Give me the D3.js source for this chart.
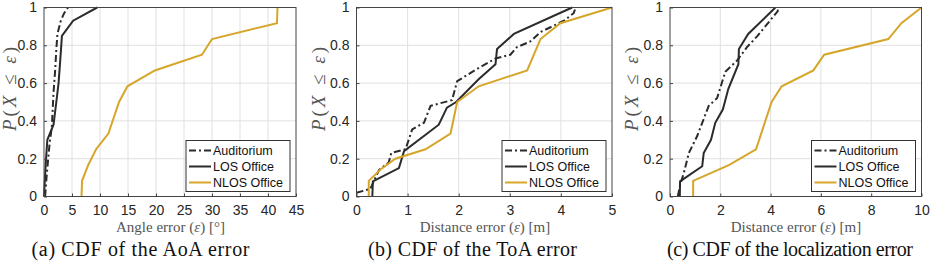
<!DOCTYPE html>
<html>
<head>
<meta charset="utf-8">
<script src="https://cdn.jsdelivr.net/npm/d3@7"></script>
<style>
  body { margin: 0; background: #fff; }
  text { font-family: "Liberation Sans", Arial, sans-serif; }
  .serif { font-family: "Liberation Serif", "Times New Roman", serif; }
</style>
</head>
<body>
<svg id="fig" width="930" height="264"></svg>
<script>
// series labels, shared by the three panels
const seriesNames = ["Auditorium", "LOS Office", "NLOS Office"];
const yTicks = [0, 0.2, 0.4, 0.6, 0.8, 1];

// (a) AoA error, degrees
const aoaAudX = [0.2, 0.5, 1.0, 1.4, 1.7, 2.0, 2.2, 2.4, 3.0, 3.6, 4.3];
const aoaAudY = [0, 0.12, 0.28, 0.37, 0.55, 0.67, 0.78, 0.86, 0.93, 0.97, 1];
const aoaLosX = [0, 0.3, 0.6, 1.7, 2.2, 2.6, 2.9, 3.2, 5.2, 9.5];
const aoaLosY = [0, 0.17, 0.30, 0.38, 0.50, 0.60, 0.72, 0.85, 0.93, 1];
const aoaNlosX = [6.7, 6.8, 7.9, 9.3, 11.5, 13.4, 14.9, 19.8, 28.2, 30.0, 41.6, 41.7];
const aoaNlosY = [0, 0.083, 0.167, 0.25, 0.333, 0.5, 0.583, 0.667, 0.75, 0.833, 0.917, 1];
const aoaTicks = [0, 5, 10, 15, 20, 25, 30, 35, 40, 45];

// (b) ToA error, metres
const toaAudX = [0, 0.27, 0.44, 0.63, 0.68, 0.96, 1.09, 1.32, 1.45, 1.87, 1.97, 2.33, 2.72, 3.01, 3.14, 3.4, 3.6, 4.06, 4.25, 4.29];
const toaAudY = [0.02, 0.04, 0.14, 0.18, 0.23, 0.25, 0.355, 0.39, 0.48, 0.51, 0.61, 0.67, 0.73, 0.75, 0.79, 0.82, 0.87, 0.93, 0.97, 1];
const toaLosX = [0.31, 0.32, 0.83, 0.93, 1.61, 1.77, 1.95, 2.39, 2.72, 2.75, 3.08, 4.22];
const toaLosY = [0, 0.08, 0.15, 0.24, 0.38, 0.47, 0.5, 0.62, 0.70, 0.78, 0.86, 1];
const toaNlosX = [0.24, 0.24, 0.47, 0.76, 1.35, 1.84, 1.97, 2.39, 3.34, 3.6, 3.99, 5.0];
const toaNlosY = [0, 0.083, 0.143, 0.2, 0.25, 0.333, 0.5, 0.583, 0.667, 0.833, 0.917, 1];
const toaTicks = [0, 1, 2, 3, 4, 5];

// (c) localization error, metres
const locAudX = [0.31, 0.4, 0.55, 0.75, 1.08, 1.54, 1.87, 2.2, 2.67, 3.06, 3.48, 4.28, 4.3];
const locAudY = [0, 0.06, 0.125, 0.23, 0.32, 0.48, 0.52, 0.66, 0.72, 0.79, 0.85, 0.98, 1];
const locLosX = [0.39, 0.4, 1.28, 1.34, 1.63, 1.8, 2.1, 2.32, 2.72, 2.74, 3.11, 4.19];
const locLosY = [0, 0.08, 0.16, 0.23, 0.30, 0.39, 0.46, 0.57, 0.70, 0.78, 0.86, 1];
const locNlosX = [0.92, 0.92, 2.36, 3.42, 4.04, 4.44, 5.7, 6.13, 8.68, 9.2, 10];
const locNlosY = [0, 0.083, 0.167, 0.25, 0.5, 0.583, 0.667, 0.75, 0.833, 0.917, 1];
const locTicks = [0, 2, 4, 6, 8, 10];

const TOP = 7.5, BOTTOM = 196.5;
const DARK = "#2b2b2b", GOLD = "#d6a62a";
const styles = [
  { color: DARK, dash: "7,3,2,3" },
  { color: DARK, dash: null },
  { color: GOLD, dash: null }
];

const svg = d3.select("#fig");

function panel(p) {
  const x = d3.scaleLinear().domain([p.ticks[0], p.ticks[p.ticks.length - 1]]).range([p.left, p.right]);
  const y = d3.scaleLinear().domain([0, 1]).range([BOTTOM, TOP]);
  const g = svg.append("g");

  // grid
  g.selectAll(".gx").data(p.ticks.slice(1, -1)).enter().append("line")
    .attr("x1", d => x(d)).attr("x2", d => x(d))
    .attr("y1", TOP).attr("y2", BOTTOM)
    .attr("stroke", "#e0e0e0").attr("stroke-width", 1);
  g.selectAll(".gy").data(yTicks.slice(1, -1)).enter().append("line")
    .attr("x1", p.left).attr("x2", p.right)
    .attr("y1", d => y(d)).attr("y2", d => y(d))
    .attr("stroke", "#e0e0e0").attr("stroke-width", 1);

  // curves
  const line = d3.line().x(d => x(d[0])).y(d => y(d[1]));
  p.series.forEach((s, i) => {
    g.append("path")
      .datum(d3.zip(s[0], s[1]))
      .attr("d", line)
      .attr("fill", "none")
      .attr("stroke", styles[i].color)
      .attr("stroke-width", 2)
      .attr("stroke-dasharray", styles[i].dash);
  });

  // axes (MATLAB-style box with inward ticks)
  const ax = g.append("g").attr("transform", `translate(0,${BOTTOM})`)
    .call(d3.axisBottom(x).tickValues(p.ticks).tickFormat(d3.format("")).tickSizeInner(-3).tickSizeOuter(0).tickPadding(8));
  const ay = g.append("g").attr("transform", `translate(${p.left},0)`)
    .call(d3.axisLeft(y).tickValues(yTicks).tickFormat(d3.format("")).tickSizeInner(-3).tickSizeOuter(0).tickPadding(7));
  [ax, ay].forEach(a => {
    a.select(".domain").remove();
    a.selectAll("line").attr("stroke", "#444");
    a.selectAll("text").attr("fill", "#262626").style("font-size", "14px")
      .style("font-family", "'Liberation Sans', Arial, sans-serif");
  });
  ax.selectAll("text").attr("dy", "0.72em");
  g.append("rect")
    .attr("x", p.left).attr("y", TOP)
    .attr("width", p.right - p.left).attr("height", BOTTOM - TOP)
    .attr("fill", "none").attr("stroke", "#444").attr("stroke-width", 1);

  // legend
  const lw = 104, lh = 51;
  const lx = p.right - 6 - lw, ly = BOTTOM - 5 - lh;
  const lg = g.append("g").attr("transform", `translate(${lx},${ly})`);
  lg.append("rect").attr("width", lw).attr("height", lh)
    .attr("fill", "#fff").attr("stroke", "#333").attr("stroke-width", 1);
  seriesNames.forEach((name, i) => {
    const yy = 10 + i * 16;
    lg.append("line").attr("x1", 3).attr("x2", 25).attr("y1", yy).attr("y2", yy)
      .attr("stroke", styles[i].color).attr("stroke-width", 2)
      .attr("stroke-dasharray", styles[i].dash);
    lg.append("text").attr("x", 27).attr("y", yy).attr("dy", "0.35em")
      .style("font-size", "12.5px").attr("fill", "#111").text(name);
  });

  // y label
  const yl = g.append("text").attr("class", "serif")
    .attr("transform", `translate(${p.ylx},89) rotate(-90)`)
    .attr("text-anchor", "middle").attr("dy", "0.35em")
    .attr("textLength", 84).attr("lengthAdjust", "spacing")
    .style("font-size", "19px").attr("fill", "#555");
  yl.append("tspan").style("font-style", "italic").text("P");
  yl.append("tspan").text("(");
  yl.append("tspan").style("font-style", "italic").text("X");
  yl.append("tspan").text(" ≤ ");
  yl.append("tspan").style("font-style", "italic").text("ε");
  yl.append("tspan").text(")");

  // x label
  const xl = g.append("text").attr("class", "serif")
    .attr("x", p.xlx).attr("y", 227).attr("dy", "0.35em")
    .attr("text-anchor", "middle").style("font-size", "15px").attr("fill", "#555");
  xl.append("tspan").text(p.xlabel + " (");
  xl.append("tspan").style("font-style", "italic").text("ε");
  xl.append("tspan").text(") [" + p.unit + "]");

  // caption
  svg.append("text").attr("class", "serif")
    .attr("x", p.capx).attr("y", 249).attr("dy", "0.35em")
    .attr("text-anchor", "middle").style("font-size", "20px").attr("fill", "#111")
    .attr("textLength", p.capw).attr("lengthAdjust", "spacing")
    .text(p.caption);
}

panel({ left: 44, right: 296, ticks: aoaTicks, ylx: 9, xlx: 170.5, capx: 140.5, capw: 218,
  xlabel: "Angle error", unit: "°", caption: "(a) CDF of the AoA error",
  series: [[aoaAudX, aoaAudY], [aoaLosX, aoaLosY], [aoaNlosX, aoaNlosY]] });
panel({ left: 356.5, right: 612, ticks: toaTicks, ylx: 318, xlx: 485, capx: 472.5, capw: 209,
  xlabel: "Distance error", unit: "m", caption: "(b) CDF of the ToA error",
  series: [[toaAudX, toaAudY], [toaLosX, toaLosY], [toaNlosX, toaNlosY]] });
panel({ left: 670, right: 921.5, ticks: locTicks, ylx: 631, xlx: 796, capx: 790, capw: 246,
  xlabel: "Distance error", unit: "m", caption: "(c) CDF of the localization error",
  series: [[locAudX, locAudY], [locLosX, locLosY], [locNlosX, locNlosY]] });
</script>
</body>
</html>
